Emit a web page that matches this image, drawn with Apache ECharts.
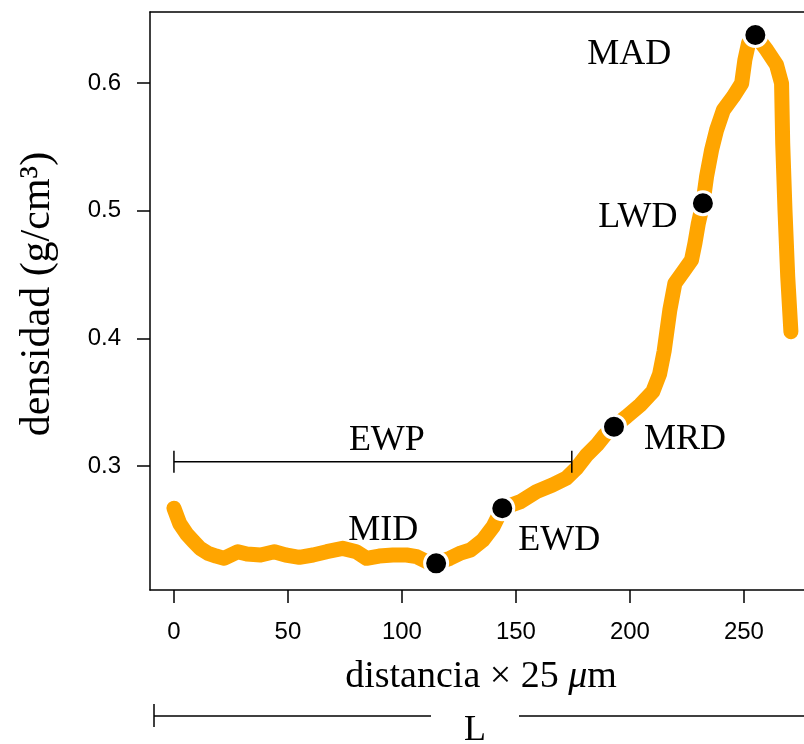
<!DOCTYPE html>
<html>
<head>
<meta charset="utf-8">
<script src="https://cdn.jsdelivr.net/npm/echarts@6/dist/echarts.min.js"></script>
<style>
html,body{margin:0;padding:0;background:#fff;overflow:hidden;}
#chart{width:804px;height:744px;}
</style>
</head>
<body>
<div id="chart"></div>
<script>
// ---- data ----
var distance = [0, 2.5, 5.5, 8.5, 11.5, 15, 18.5, 22, 25, 28, 32, 38, 44, 49, 55, 61, 67, 74, 80, 84.5,
  90, 96, 102, 106.5, 111, 115, 121, 126, 130, 135.5, 140, 144, 152, 159, 166, 172, 176.5, 181, 185.5, 189,
  193, 198.5, 204.5, 210, 213, 215, 217.5, 219.7, 223.4, 227, 228.5, 230, 232, 233.6, 235.8, 238, 241, 245.3,
  249, 250.4, 252, 255, 260, 264.3, 266.5, 267, 268, 269.2, 270.6];
var density = [0.267, 0.255, 0.247, 0.241, 0.2355, 0.2316, 0.2295, 0.2277, 0.2303, 0.2329, 0.2311, 0.2303, 0.2329, 0.2303, 0.2285, 0.2303, 0.2329, 0.2355, 0.2329, 0.2277,
  0.2295, 0.2303, 0.2303, 0.229, 0.2251, 0.2238, 0.2277, 0.232, 0.2342, 0.242, 0.2525, 0.2669, 0.2721, 0.2799, 0.2851, 0.2904, 0.2982, 0.3086, 0.3165, 0.3243,
  0.3308, 0.3387, 0.3478, 0.3582, 0.372, 0.39, 0.4222, 0.4431, 0.4522, 0.4614, 0.4744, 0.4901, 0.5058, 0.5266, 0.5475, 0.5632, 0.5789, 0.5893,
  0.5997, 0.618, 0.6311, 0.6376, 0.6258, 0.6141, 0.5997, 0.5528, 0.5005, 0.4483, 0.4052];

var keyNames = ['MID', 'EWD', 'MRD', 'LWD', 'MAD'];
var keyDistance = [115, 144, 193, 232, 255];
var keyDensity = [0.2238, 0.2669, 0.3308, 0.5058, 0.6376];

var ewpRange = [0, 174.5];
var ewpLevel = 0.3034;

var xTicks = [0, 50, 100, 150, 200, 250];
var yTicks = [0.3, 0.4, 0.5, 0.6];

// ---- styling (not data) ----
var labelOffsets = {MID: [-53, -33], EWD: [57, 32], MRD: [71, 13], LWD: [-65, 14], MAD: [-126, 20]};
var SERIF = '"Liberation Serif", "Times New Roman", Times, serif';
var SANS = '"Liberation Sans", Arial, Helvetica, sans-serif';
var AX = {color: '#000', width: 1.5};

var lineData = distance.map(function (d, i) { return [d, density[i]]; });
var keyData = keyNames.map(function (n, i) {
  return {
    value: [keyDistance[i], keyDensity[i]],
    name: n,
    label: {offset: labelOffsets[n]}
  };
});
var ewpData = [[ewpRange[0], ewpLevel], [ewpRange[1], ewpLevel]];

var chart = echarts.init(document.getElementById('chart'), null, {renderer: 'canvas'});
chart.setOption({
  animation: false,
  backgroundColor: '#fff',
  grid: {left: 150, top: 12, right: 0, bottom: 154, show: false},
  xAxis: [{
    type: 'value', min: -10.5, max: 276.34, position: 'bottom',
    axisLine: {show: true, onZero: false, lineStyle: AX},
    splitLine: {show: false},
    axisTick: {show: true, inside: false, length: 13, customValues: xTicks, lineStyle: AX},
    axisLabel: {show: true, margin: 30, customValues: xTicks, color: '#000', fontFamily: SANS, fontSize: 24}
  }, {
    type: 'value', min: -10.5, max: 276.34, position: 'top',
    axisLine: {show: true, onZero: false, lineStyle: AX},
    splitLine: {show: false}, axisTick: {show: false}, axisLabel: {show: false}
  }],
  yAxis: {
    type: 'value', min: 0.2029, max: 0.6556, position: 'left',
    axisLine: {show: true, onZero: false, lineStyle: AX},
    splitLine: {show: false},
    axisTick: {show: true, inside: false, length: 13, customValues: yTicks, lineStyle: AX},
    axisLabel: {show: true, margin: 29, customValues: yTicks, color: '#000', fontFamily: SANS, fontSize: 24,
      formatter: function (v) { return v.toFixed(1); }}
  },
  series: [
    {
      type: 'line', data: lineData, symbol: 'none', smooth: false, z: 2,
      lineStyle: {color: '#FFA500', width: 15, cap: 'round', join: 'round'}
    },
    {
      type: 'line', data: ewpData, symbol: 'rect', symbolSize: [1.5, 22], showSymbol: true, z: 3,
      itemStyle: {color: '#000'},
      lineStyle: {color: '#000', width: 1.5}
    },
    {
      type: 'scatter', data: [[(ewpRange[0] + ewpRange[1]) / 2, ewpLevel]], symbolSize: 0, z: 3,
      itemStyle: {opacity: 1},
      label: {show: true, position: 'inside', formatter: 'EWP', offset: [14, -21], color: '#000',
        fontFamily: SERIF, fontSize: 36, align: 'center', verticalAlign: 'middle'}
    },
    {
      type: 'scatter', data: keyData, symbol: 'circle', symbolSize: 23, z: 4,
      itemStyle: {color: '#000', borderColor: '#fff', borderWidth: 3, opacity: 1},
      label: {show: true, position: 'inside', formatter: '{b}', color: '#000',
        fontFamily: SERIF, fontSize: 36, align: 'center', verticalAlign: 'middle'}
    }
  ],
  graphic: [
    {type: 'text', x: 38, y: 294, rotation: Math.PI / 2,
      style: {text: 'densidad (g/cm³)', font: '42px ' + SERIF, fill: '#000', align: 'center', verticalAlign: 'middle'}},
    {type: 'text', x: 481, y: 677,
      style: {text: '{a|distancia × 25 }{b|μ}{a|m}', fill: '#000', align: 'center', verticalAlign: 'middle',
        rich: {a: {fontFamily: SERIF, fontSize: 38, fill: '#000'}, b: {fontFamily: SERIF, fontSize: 38, fontStyle: 'italic', fill: '#000'}}}},
    {type: 'line', shape: {x1: 154, y1: 716, x2: 431, y2: 716}, style: {stroke: '#000', lineWidth: 1.5}},
    {type: 'line', shape: {x1: 154, y1: 704, x2: 154, y2: 727}, style: {stroke: '#000', lineWidth: 1.5}},
    {type: 'line', shape: {x1: 519, y1: 716, x2: 820, y2: 716}, style: {stroke: '#000', lineWidth: 1.5}},
    {type: 'text', x: 475, y: 731,
      style: {text: 'L', font: '36px ' + SERIF, fill: '#000', align: 'center', verticalAlign: 'middle'}}
  ]
});
</script>
</body>
</html>
